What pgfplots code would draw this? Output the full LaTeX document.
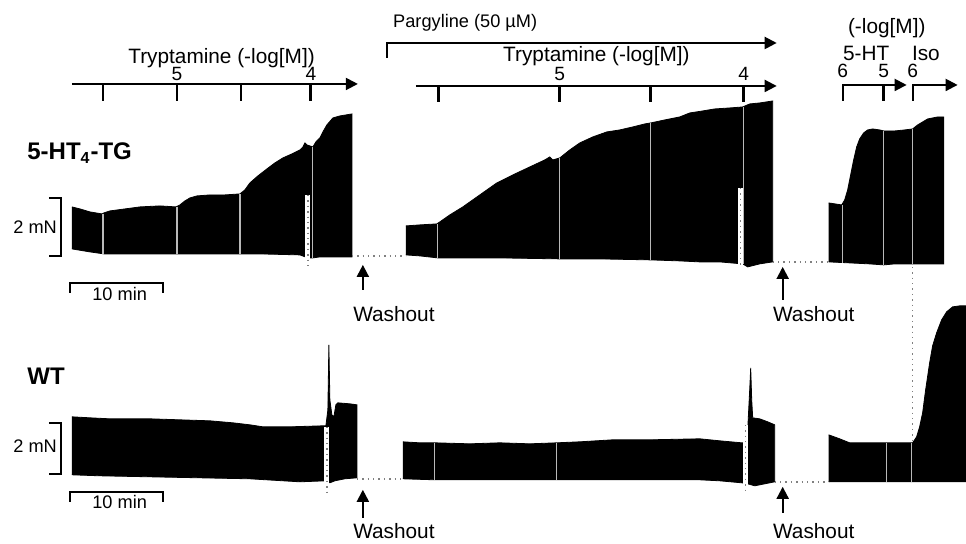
\documentclass[border=0pt]{standalone}
\usepackage{fontspec}
\setmainfont{Liberation Sans}
\usepackage{pgfplots}
\pgfplotsset{compat=1.18}
\usetikzlibrary{arrows.meta}

% traces in image pixel coordinates (x right, y down)
\pgfplotstableread{
x y
72 207
80 209
90 212
102 214
104 213
110 211
125 209
140 207
160 206
176 207
180 205
185 201
190 198
197 196
210 195
225 195
240 194
245 190
250 183
258 176
267 169
275 163
283 158
292 154
300 150
303 147
305 143
307 145
310 146
313 147
316 142
320 138
323 132
327 125
333 118
340 116
346 115
352 114
352 257
340 257
320 257
313 258
308 258
300 255
260 254
200 254
150 254
104 254
90 252
72 249
}\tgA
\pgfplotstableread{
x y
406 226
420 225
437 224
440 222
450 215
463 207
480 195
497 183
513 175
530 167
545 160
550 157
553 160
560 158
570 150
580 143
593 137
607 132
620 130
633 127
645 124
651 123
665 120
680 117
690 113
703 111
715 109
730 108
743 107
750 104
760 103
773 101
773 262
760 264
748 267
743 264
720 262
700 262
680 261
651 260
600 259
560 259
500 258
438 258
420 256
406 255
}\tgB
\pgfplotstableread{
x y
829 203
842 205
845 200
848 190
851 175
854 160
857 147
860 139
864 133
868 130
873 129
880 130
884 131
895 131
905 130
913 129
918 125
923 122
928 119
933 118
938 117
944 117
944 264
913 264
895 264
884 265
870 264
850 263
829 262
}\tgC
\pgfplotstableread{
x y
72 417
90 418
110 419
150 419
180 420
210 421
233 423
250 425
263 427
290 427
323 426
326 426
328 410
329 345
330 400
332 415
334 417
336 405
338 403
350 404
357 405
357 478
345 479
335 481
330 483
326 481
300 482
250 479
200 478
150 477
100 476
72 475
}\wtA
\pgfplotstableread{
x y
403 442
420 443
435 443
470 444
500 443
530 444
557 443
580 442
613 440
650 440
700 439
720 441
742 443
744 443
748 430
750 390
751 368
752 400
753 418
760 419
768 422
775 425
775 482
765 484
755 486
748 484
742 483
720 481
700 480
650 480
560 480
500 480
435 480
403 479
}\wtB
\pgfplotstableread{
x y
829 435
840 439
850 443
870 443
890 443
913 443
917 437
920 427
923 413
926 390
930 363
933 346
937 333
942 320
947 312
953 307
960 306
966 306
966 482
900 482
829 482
}\wtC

\begin{document}
\begin{tikzpicture}
\begin{axis}[
    width=483pt, height=272pt, scale only axis,
    xmin=0, xmax=966, ymin=0, ymax=544, y dir=reverse,
    hide axis, clip=false,
    arr/.style={line width=1pt, -{Triangle[length=6pt,width=6pt]}},
    tk/.style={line width=1.4pt},
    sc/.style={line width=1.3pt},
    gl/.style={gray!55, line width=0.6pt},
    dl/.style={gray, dotted, line width=0.7pt},
    strip/.style={white, line width=2.5pt},
]
% frame of the whole picture (invisible, keeps the page size)
\addplot[draw=none] coordinates {(0,0) (966,0) (966,544) (0,544)};

% traces
\addplot[fill=black, draw=black, line width=0.4pt] table {\tgA};
\addplot[fill=black, draw=black, line width=0.4pt] table {\tgB};
\addplot[fill=black, draw=black, line width=0.4pt] table {\tgC};
\addplot[fill=black, draw=black, line width=0.4pt] table {\wtA};
\addplot[fill=black, draw=black, line width=0.4pt] table {\wtB};
\addplot[fill=black, draw=black, line width=0.4pt] table {\wtC};

% grey marks between doses
\addplot[gl] coordinates {(103,214) (103,254)};
\addplot[gl] coordinates {(177,207) (177,254)};
\addplot[gl] coordinates {(240,194) (240,254)};
\addplot[gl] coordinates {(313,147) (313,258)};
\addplot[gl] coordinates {(438,224) (438,258)};
\addplot[gl] coordinates {(560,158) (560,259)};
\addplot[gl] coordinates {(651,123) (651,260)};
\addplot[gl] coordinates {(744,107) (744,264)};
\addplot[gl] coordinates {(843,205) (843,263)};
\addplot[gl] coordinates {(884,131) (884,265)};
\addplot[gl] coordinates {(913,129) (913,264)};
\addplot[gl] coordinates {(435,443) (435,480)};
\addplot[gl] coordinates {(557,443) (557,480)};
\addplot[gl] coordinates {(887,443) (887,482)};
\addplot[gl] coordinates {(912,443) (912,482)};

% white dotted strips
\addplot[strip] coordinates {(308,195) (308,267)};
\addplot[dl] coordinates {(308,195) (308,267)};
\addplot[strip] coordinates {(741,188) (741,268)};
\addplot[dl] coordinates {(741,188) (741,268)};
\addplot[strip] coordinates {(327,427) (327,495)};
\addplot[dl] coordinates {(327,427) (327,495)};
\addplot[strip] coordinates {(746,425) (746,492)};
\addplot[dl] coordinates {(746,425) (746,492)};

% dotted baselines
\addplot[dl] coordinates {(352,256) (406,256)};
\addplot[dl] coordinates {(773,262) (829,262)};
\addplot[dl] coordinates {(357,479) (403,479)};
\addplot[dl] coordinates {(775,482) (829,482)};
\addplot[dl] coordinates {(913,267) (913,440)};

% dose axes
\addplot[arr] coordinates {(72,84) (358,84)};
\addplot[tk] coordinates {(103,84) (103,101)};
\addplot[tk] coordinates {(177,84) (177,101)};
\addplot[tk] coordinates {(241,84) (241,101)};
\addplot[tk] coordinates {(311,84) (311,101)};
\addplot[arr] coordinates {(387,58) (387,43) (777,43)};
\addplot[arr] coordinates {(416,86) (777,86)};
\addplot[tk] coordinates {(439,86) (439,102)};
\addplot[tk] coordinates {(560,86) (560,102)};
\addplot[tk] coordinates {(651,86) (651,102)};
\addplot[tk] coordinates {(744,86) (744,102)};
\addplot[arr] coordinates {(843,101) (843,85) (907,85)};
\addplot[tk] coordinates {(884,85) (884,101)};
\addplot[arr] coordinates {(913,101) (913,85) (958,85)};

% washout arrows
\addplot[arr] coordinates {(363,290) (363,265)};
\addplot[arr] coordinates {(783,300) (783,267)};
\addplot[arr] coordinates {(363,518) (363,490)};
\addplot[arr] coordinates {(783,513) (783,487)};

% scale bars
\addplot[sc] coordinates {(49,198) (61,198) (61,256) (49,256)};
\addplot[sc] coordinates {(49,423) (61,423) (61,474) (49,474)};
\addplot[sc] coordinates {(70,293) (70,283) (163,283) (163,293)};
\addplot[sc] coordinates {(70,502) (70,492) (163,492) (163,502)};

% texts
\begin{scope}[font=\fontsize{10.4}{12}\selectfont, every node/.style={inner sep=0pt}]
\node[anchor=base west] at (axis cs:128,64) {Tryptamine (-log[M])};
\node[anchor=base west] at (axis cs:503,62) {Tryptamine (-log[M])};
\node[anchor=base west] at (axis cs:848,34) {(-log[M])};
\node[anchor=base west] at (axis cs:843,61) {5-HT};
\node[anchor=base west] at (axis cs:912,61) {Iso};
\node[anchor=base west] at (axis cs:353,322) {Washout};
\node[anchor=base west] at (axis cs:773,322) {Washout};
\node[anchor=base west] at (axis cs:353,539) {Washout};
\node[anchor=base west] at (axis cs:773,539) {Washout};
\end{scope}
\begin{scope}[font=\fontsize{9.6}{11}\selectfont, every node/.style={inner sep=0pt}]
\node[anchor=base] at (axis cs:177,81) {5};
\node[anchor=base] at (axis cs:311,81) {4};
\node[anchor=base] at (axis cs:560,81) {5};
\node[anchor=base] at (axis cs:744,81) {4};
\node[anchor=base] at (axis cs:843,78) {6};
\node[anchor=base] at (axis cs:884,78) {5};
\node[anchor=base] at (axis cs:913,78) {6};
\end{scope}
\begin{scope}[font=\fontsize{9.1}{11}\selectfont, every node/.style={inner sep=0pt}]
\node[anchor=base west] at (axis cs:393,28) {Pargyline (50 µM)};
\node[anchor=base west] at (axis cs:13,234) {2 mN};
\node[anchor=base west] at (axis cs:13,453) {2 mN};
\node[anchor=base west] at (axis cs:92,301) {10 min};
\node[anchor=base west] at (axis cs:92,509) {10 min};
\end{scope}
\begin{scope}[font=\fontsize{12}{14}\selectfont\bfseries, every node/.style={inner sep=0pt}]
\node[anchor=base west] at (axis cs:27,160) {5-HT\textsubscript{4}-TG};
\node[anchor=base west] at (axis cs:27,385) {WT};
\end{scope}
\end{axis}
\end{tikzpicture}
\end{document}
